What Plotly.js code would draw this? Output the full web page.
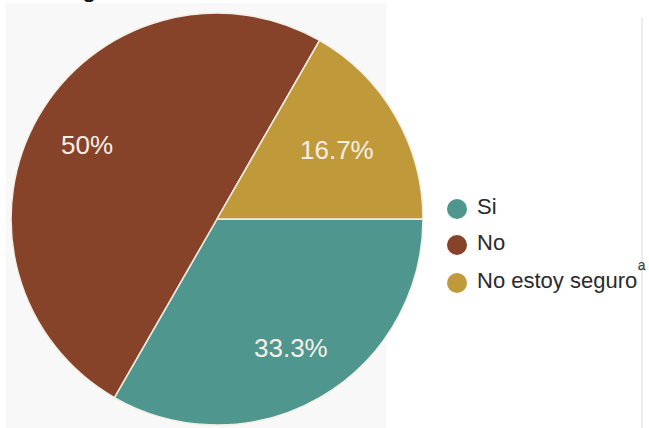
<!DOCTYPE html>
<html>
<head>
<meta charset="utf-8">
<script src="https://cdn.plot.ly/plotly-3.0.1.min.js"></script>
<style>html,body{margin:0;padding:0;background:#fff;}#chart{width:649px;height:428px;}</style>
</head>
<body>
<div id="chart"></div>
<script>
// Data
const labels = ["Si", "No", "No estoy seguro"];
const values = [33.3, 50, 16.7];
const colors = ["#4f968f", "#86432a", "#c09a3a"];

const W = 649, H = 428;
const px = x => x / W;
const py = y => 1 - y / H;

// pie geometry (pixels)
const CX = 217, CY = 219, R = 206;
const ROT = 90;

const trace = {
  type: "pie",
  labels: labels,
  values: values,
  sort: false,
  direction: "clockwise",
  rotation: ROT,
  marker: { colors: colors, line: { color: "#f4efe6", width: 1.5 } },
  textinfo: "none",
  textposition: "none",
  hoverinfo: "none",
  showlegend: false,
  domain: { x: [px(CX - R), px(CX + R)], y: [py(CY + R), py(CY - R)] }
};

const shapes = [
  { type: "rect", xref: "paper", yref: "paper", x0: px(6), x1: px(386), y0: 0, y1: py(3),
    fillcolor: "#f8f8f8", line: { width: 0 }, layer: "below" },
  { type: "line", xref: "paper", yref: "paper", x0: px(642), x1: px(642), y0: 0, y1: py(17),
    line: { color: "#ececec", width: 2 }, layer: "below" }
];
const annotations = [
  { xref: "paper", yref: "paper", x: px(89), y: py(-12), text: "g", showarrow: false,
    font: { family: "Liberation Sans, Arial, sans-serif", size: 26, color: "#111" }, xanchor: "center", yanchor: "middle" },
  { xref: "paper", yref: "paper", x: px(642), y: py(270), text: "ª", showarrow: false,
    font: { family: "Liberation Sans, Arial, sans-serif", size: 20, color: "#444" }, xanchor: "center", yanchor: "middle" }
];

// percent labels placed along each slice's mid-angle
const total = values.reduce((a, b) => a + b, 0);
const radFrac = [0.72, 0.73, 0.675];
let cum = 0;
values.forEach((v, i) => {
  const mid = (ROT + 360 * (cum + v / 2) / total) * Math.PI / 180;
  cum += v;
  const x = CX + R * radFrac[i] * Math.sin(mid);
  const y = CY - R * radFrac[i] * Math.cos(mid);
  const pct = Math.round(1000 * v / total) / 10;
  annotations.push({ xref: "paper", yref: "paper", x: px(x), y: py(y + 1), text: pct + "%",
    showarrow: false, xanchor: "center", yanchor: "middle",
    font: { family: "Liberation Sans, Arial, sans-serif", size: 26, color: "#f6efe6" } });
});

// legend
const legendY = [209, 245, 283];
labels.forEach((lab, i) => {
  const cy = legendY[i], cx = 457, r = 10;
  shapes.push({ type: "circle", xref: "paper", yref: "paper",
    x0: px(cx - r), x1: px(cx + r), y0: py(cy + r), y1: py(cy - r),
    fillcolor: colors[i], line: { width: 0 } });
  annotations.push({ xref: "paper", yref: "paper", x: px(475), y: py(cy - 3), text: lab,
    showarrow: false, xanchor: "left", yanchor: "middle",
    font: { family: "Liberation Sans, Arial, sans-serif", size: 22, color: "#2a2a2a" } });
});

const layout = {
  width: W, height: H,
  margin: { l: 0, r: 0, t: 0, b: 0 },
  paper_bgcolor: "#ffffff",
  showlegend: false,
  shapes: shapes,
  annotations: annotations
};
Plotly.newPlot("chart", [trace], layout, { displayModeBar: false, staticPlot: true });
</script>
</body>
</html>
